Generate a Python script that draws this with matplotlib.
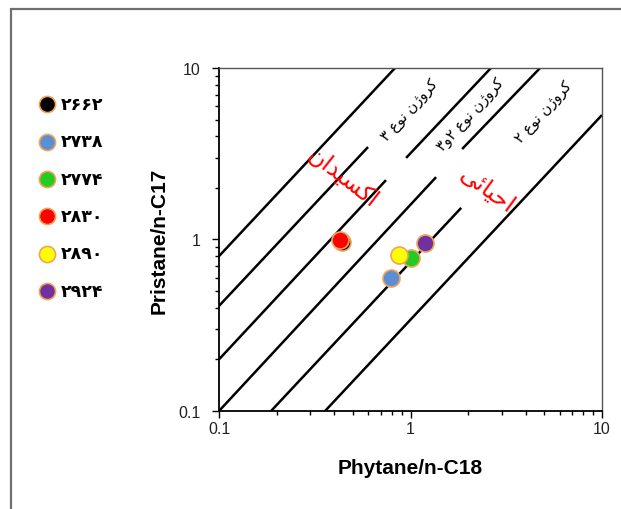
import matplotlib.pyplot as plt
from matplotlib.patches import Rectangle

# Samples (depth labels) and their ratios
samples = ['۲۶۶۲', '۲۷۳۸', '۲۷۷۴', '۲۸۳۰', '۲۸۹۰', '۲۹۲۴']
phytane_c18 = [0.44, 0.79, 1.01, 0.43, 0.87, 1.19]
pristane_c17 = [0.97, 0.60, 0.78, 0.99, 0.81, 0.95]
colors = ['black', '#5b8fd4', '#22cc22', '#ff0000', '#ffff00', '#7030a0']

# Boundary lines of the kerogen fields: (x0, y0, x1, y1)
lines_x0 = [0.1, 0.1, 0.1, 0.948, 0.1, 1.86, 0.187, 0.358]
lines_y0 = [0.80, 0.41, 0.20, 2.99, 0.1, 3.37, 0.1, 0.1]
lines_x1 = [0.83, 0.60, 0.745, 2.63, 1.36, 4.75, 1.84, 10]
lines_y1 = [10, 3.46, 2.22, 10, 2.31, 10, 1.53, 5.32]

# Persian letter forms: isolated, final, initial, medial
FORMS = {
    'ا': ('\uFE8D', '\uFE8E', None, None),
    'ر': ('\uFEAD', '\uFEAE', None, None),
    'و': ('\uFEED', '\uFEEE', None, None),
    'ژ': ('\uFB8A', '\uFB8B', None, None),
    'د': ('\uFEA9', '\uFEAA', None, None),
    'ک': ('\uFB8E', '\uFB8F', '\uFB90', '\uFB91'),
    'ن': ('\uFEE5', '\uFEE6', '\uFEE7', '\uFEE8'),
    'ع': ('\uFEC9', '\uFECA', '\uFECB', '\uFECC'),
    'س': ('\uFEB1', '\uFEB2', '\uFEB3', '\uFEB4'),
    'ی': ('\uFBFC', '\uFBFD', '\uFBFE', '\uFBFF'),
    'ح': ('\uFEA1', '\uFEA2', '\uFEA3', '\uFEA4'),
    'ئ': ('\uFE89', '\uFE8A', '\uFE8B', '\uFE8C'),
}


def shape(text):
    out = []
    for i, ch in enumerate(text):
        if ch not in FORMS:
            out.append(ch)
            continue
        prev = text[i - 1] if i > 0 else ''
        nxt = text[i + 1] if i + 1 < len(text) else ''
        join_prev = prev in FORMS and FORMS[prev][2] is not None
        join_next = FORMS[ch][2] is not None and nxt in FORMS
        iso, fin, ini, med = FORMS[ch]
        if join_prev and join_next:
            out.append(med)
        elif join_prev:
            out.append(fin)
        elif join_next:
            out.append(ini)
        else:
            out.append(iso)
    return ''.join(out)[::-1]


plt.rcParams['font.family'] = ['Liberation Sans', 'DejaVu Sans']

fig = plt.figure(figsize=(6.21, 5.10), dpi=100)
ax = fig.add_axes([0.3527, 0.1922, 0.6167, 0.6725])

for x0, y0, x1, y1 in zip(lines_x0, lines_y0, lines_x1, lines_y1):
    ax.plot([x0, x1], [y0, y1], color='black', lw=1.8, solid_capstyle='butt', zorder=2)

handles = []
for x, y, c, s in zip(phytane_c18, pristane_c17, colors, samples):
    h = ax.scatter(x, y, s=150, color=c, edgecolors='#f0a35a', linewidths=1.2, zorder=3, label=s)
    handles.append(h)

ax.set_xscale('log')
ax.set_yscale('log')
ax.set_xlim(0.1, 10)
ax.set_ylim(0.1, 10)
ax.set_xticks([0.1, 1, 10])
ax.set_yticks([0.1, 1, 10])
ax.set_xticklabels(['0.1', '1', '10'])
ax.set_yticklabels(['0.1', '1', '10'])
ax.tick_params(which='major', direction='out', length=5, width=1, labelsize=11.5,
               labelcolor='#222222', pad=8)
ax.tick_params(which='minor', direction='out', length=3, width=1)
ax.tick_params(axis='x', pad=2)
for side in ['left', 'bottom']:
    ax.spines[side].set_color('black')
    ax.spines[side].set_linewidth(1.3)
for side in ['top', 'right']:
    ax.spines[side].set_color('#555555')
    ax.spines[side].set_linewidth(1.0)

ax.set_xlabel('Phytane/n-C18', fontsize=15, fontweight='bold', labelpad=16)
ax.set_ylabel('Pristane/n-C17', fontsize=15, fontweight='bold', labelpad=7)

pfont = ['DejaVu Sans']
ax.text(0.99, 5.77, shape('کروژن نوع ۳'), family=pfont, fontsize=10.5, rotation=48,
        ha='center', va='center')
ax.text(2.05, 5.39, shape('کروژن نوع ۲و۳'), family=pfont, fontsize=10.5, rotation=48,
        ha='center', va='center')
ax.text(4.92, 5.61, shape('کروژن نوع ۲'), family=pfont, fontsize=10.5, rotation=48,
        ha='center', va='center')
ax.text(0.444, 2.31, shape('اکسیدان'), family=pfont, fontsize=17, rotation=-38,
        color='red', ha='center', va='center')
ax.text(2.51, 1.97, shape('احیائی'), family=pfont, fontsize=17, rotation=-36,
        color='red', ha='center', va='center')

fig.legend(handles=handles, labels=samples, loc='upper left',
           bbox_to_anchor=(0.037, 0.826), frameon=False,
           prop={'family': 'DejaVu Sans', 'size': 12.5, 'weight': 'bold'},
           labelspacing=1.12, handletextpad=-0.2, borderaxespad=0, markerscale=0.95)

# outer frame
fig.add_artist(Rectangle((11 / 621, -0.1), 1.2, 1 - 10 / 510 + 0.1,
                         transform=fig.transFigure, fill=False,
                         ec='#707070', lw=1.6))

fig.savefig('out.png', dpi=100)
